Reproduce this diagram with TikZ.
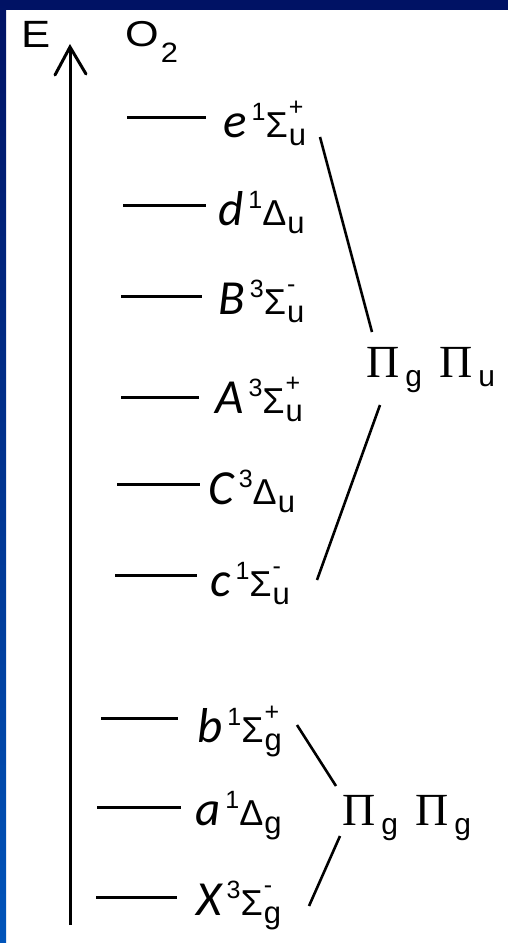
\documentclass[tikz,border=0pt]{standalone}
\usepackage{fontspec}
\usepackage{graphicx}
\setmainfont{Liberation Sans}
\newfontfamily\lblfont{Carlito}
\newfontfamily\pifont{Liberation Serif}
\definecolor{navy}{RGB}{0,18,100}
\definecolor{brightblue}{RGB}{0,84,186}
\newcommand\TS[5]{%
  {\lblfont\itshape\fontsize{49}{49}\selectfont #1}\hspace{5pt}%
  \raisebox{17pt}{\fontsize{25}{25}\selectfont #2}%
  {\fontsize{36}{36}\selectfont #3}\hspace{1pt}%
  \rlap{\raisebox{-8pt}{\fontsize{31}{31}\selectfont #4}}%
  \raisebox{22pt}{\fontsize{25}{25}\selectfont #5}}
\newcommand\PiSub[1]{{\pifont\fontsize{46}{46}\selectfont Π}\hspace{6pt}\raisebox{-9pt}{\fontsize{30}{30}\selectfont #1}}
\begin{document}
\begin{tikzpicture}[x=1pt,y=-1pt,
  lvl/.style={line width=3pt},
  conn/.style={line width=2.6pt},
  lbl/.style={anchor=base west, inner sep=0pt}]
\useasboundingbox (0,0) rectangle (508,943);
\fill[white] (0,0) rectangle (508,943);
\fill[navy] (0,0) rectangle (508,10);
\shade[top color=navy, bottom color=brightblue] (0,0) rectangle (6,943);

% axis
\coordinate (ab) at (70,925);
\coordinate (at) at (70,47);
\coordinate (aL) at (55,75);
\coordinate (aR) at (86,74);
\draw[line width=3pt] (ab) -- (at);
\draw[line width=3pt, line cap=round, line join=miter] (aL) -- (at) -- (aR);
\node[lbl] (E) at (21,47) {\scalebox{1.15}[1]{\fontsize{38}{38}\selectfont E}};
\node[lbl] (O2) at (125,46) {\scalebox{1.2}[1]{\fontsize{36}{36}\selectfont O}\hspace{2pt}\raisebox{-16pt}{\scalebox{1.1}[1]{\fontsize{28}{28}\selectfont 2}}};

% levels
\coordinate (eL) at (127,117); \coordinate (eR) at (206,117);
\coordinate (dL) at (123,205); \coordinate (dR) at (206,205);
\coordinate (BL) at (121,296); \coordinate (BR) at (202,296);
\coordinate (AL) at (121,397); \coordinate (AR) at (199,397);
\coordinate (CL) at (117,484); \coordinate (CR) at (200,484);
\coordinate (cL) at (115,575); \coordinate (cR) at (197,575);
\coordinate (bL) at (101,718); \coordinate (bR) at (178,718);
\coordinate (aaL) at (97,807); \coordinate (aaR) at (181,807);
\coordinate (XL) at (96,897); \coordinate (XR) at (177,897);
\foreach \p in {e,d,B,A,C,c,b,aa,X} \draw[lvl] (\p L) -- (\p R);

\node[lbl] (le) at (223,137) {\TS{e}{1}{Σ}{u}{+}};
\node[lbl] (ld) at (218,225) {\TS{d}{1}{Δ}{u}{}};
\node[lbl] (lB) at (218,314) {\TS{B}{3}{Σ}{u}{-}};
\node[lbl] (lA) at (215,413) {\TS{A}{3}{Σ}{u}{+}};
\node[lbl] (lC) at (208,504) {\TS{C}{3}{Δ}{u}{}};
\node[lbl] (lc) at (210,596) {\TS{c}{1}{Σ}{u}{-}};
\node[lbl] (lb) at (197,742) {\TS{b}{1}{Σ}{g}{+}};
\node[lbl] (la) at (195,825) {\TS{a}{1}{Δ}{g}{}};
\node[lbl] (lX) at (196,915) {\TS{X}{3}{Σ}{g}{-}};

% groups
\node[lbl] (pu) at (366,377) {\PiSub{g}\hspace{17pt}\PiSub{u}};
\node[lbl] (pg) at (342,825) {\PiSub{g}\hspace{17pt}\PiSub{g}};

\coordinate (u1a) at (320,137); \coordinate (u1b) at (372,332);
\coordinate (u2a) at (380,405); \coordinate (u2b) at (317,580);
\coordinate (g1a) at (297,725); \coordinate (g1b) at (336,786);
\coordinate (g2a) at (340,836); \coordinate (g2b) at (309,906);
\draw[conn] (u1a) -- (u1b);
\draw[conn] (u2a) -- (u2b);
\draw[conn] (g1a) -- (g1b);
\draw[conn] (g2a) -- (g2b);
\end{tikzpicture}
\end{document}
